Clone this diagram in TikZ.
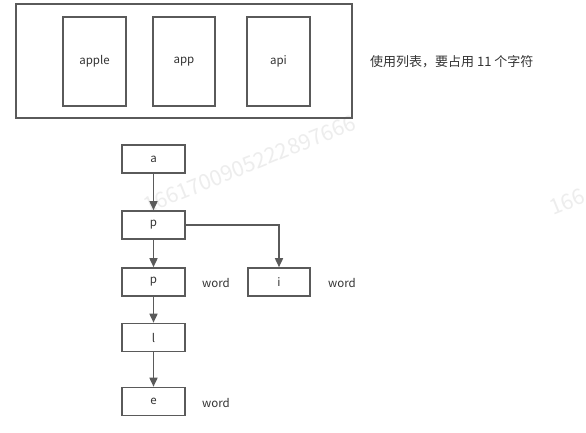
\documentclass[tikz,border=0pt]{standalone}
\usepackage{fontspec}
\setmainfont{Noto Sans CJK SC}
\usetikzlibrary{arrows.meta}
\definecolor{linegray}{HTML}{5A5A5A}
\definecolor{textgray}{HTML}{333333}
\definecolor{wmgray}{HTML}{EDEDED}
\tikzset{
  box/.style={draw=linegray, line width=1.6pt, fill=white, inner sep=0pt, text=textgray, font=\fontsize{11.5}{13}\selectfont},
  lab/.style={text=textgray, inner sep=0pt, font=\fontsize{11.5}{13}\selectfont},
  conn/.style={draw=linegray, line width=1.6pt, -{Triangle[length=9pt,width=8pt]}},
  wm/.style={text=wmgray, inner sep=0pt, font=\fontsize{21.5}{23}\selectfont, rotate=22, anchor=base west}
}
\begin{document}
\begin{tikzpicture}[x=1pt,y=-1pt]
\useasboundingbox (0,0) rectangle (586,433);
\fill[white] (0,0) rectangle (586,433);
\node[wm] (wm1) at (147,214) {1661700905222897666};
\node[wm] (wm2) at (553,216) {166};
% top list
\node[draw=linegray, line width=1.8pt, minimum width=336pt, minimum height=114pt, inner sep=0pt] (outer) at (184,61) {};
\node[box, minimum width=63pt, minimum height=89pt] (apple) at (94.5,61.5) {apple};
\node[box, minimum width=62pt, minimum height=89pt] (app) at (184,61.5) {app};
\node[box, minimum width=63pt, minimum height=89pt] (api) at (278.5,61.5) {api};
\node[lab, anchor=west, font=\fontsize{13}{15}\selectfont] (note) at (370,62) {使用列表，要占用 11 个字符};
% trie
\node[box, minimum width=63pt, minimum height=28pt] (a) at (153.5,159) {a};
\node[box, minimum width=63pt, minimum height=28pt] (p1) at (153.5,225) {p};
\node[box, minimum width=63pt, minimum height=28pt] (p2) at (153.5,282) {p};
\node[box, minimum width=63pt, minimum height=28pt] (l) at (153.5,337.5) {l};
\node[box, minimum width=63pt, minimum height=28pt] (e) at (153.5,401.5) {e};
\node[box, minimum width=62pt, minimum height=28pt] (i) at (279,282) {i};
\node[lab] (w1) at (216,283) {word};
\node[lab] (w2) at (342,283) {word};
\node[lab] (w3) at (216,403) {word};
\draw[conn] (a) -- (p1);
\draw[conn] (p1) -- (p2);
\draw[conn] (p2) -- (l);
\draw[conn] (l) -- (e);
\draw[conn] (p1.east) -| (i.north);
\end{tikzpicture}
\end{document}
